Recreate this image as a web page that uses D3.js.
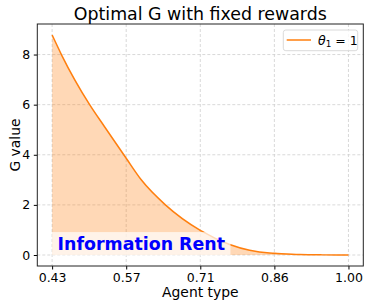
<!DOCTYPE html>
<html>
<head>
<meta charset="utf-8">
<script src="https://cdn.jsdelivr.net/npm/d3@7"></script>
<style>
  html, body { margin: 0; padding: 0; background: #fff; }
  svg { display: block; font-family: "DejaVu Sans", sans-serif; }
</style>
</head>
<body>
<svg id="chart" width="370" height="308"></svg>
<script>
// ---- data ----
const agentType = [0.4286, 0.4467, 0.5012, 0.5300, 0.5714, 0.6008, 0.6475, 0.7143, 0.7708, 0.8094, 0.8479, 0.8571, 0.9057, 0.9500, 1.0000];
const gValue    = [8.78,   7.99,   5.99,   5.11,   3.86,   2.99,   1.99,   0.98,   0.42,   0.19,   0.08,   0.07,   0.02,   0.005,  0.0];
const xTickValues = [3/7, 4/7, 5/7, 6/7, 1];
const xTickLabels = ["0.43", "0.57", "0.71", "0.86", "1.00"];
const yTickValues = [0, 2, 4, 6, 8];
const yTickLabels = ["0", "2", "4", "6", "8"];
const titleText = "Optimal G with fixed rewards";
const xLabel = "Agent type";
const yLabel = "G value";
const annotation = "Information Rent";

const svg = d3.select("#chart");
const L = 37.3, R = 363.3, T = 24, B = 266;
const orange = "#ff7f0e";

const x = d3.scaleLinear().domain([0.4, 1.0286]).range([L, R]);
const y = d3.scaleLinear().domain([-0.439, 9.219]).range([B, T]);

const data = agentType.map((a, i) => ({ a, g: gValue[i] }));

// grid
const grid = svg.append("g");
grid.selectAll(".gx").data(xTickValues).join("line")
  .attr("x1", d => x(d)).attr("x2", d => x(d)).attr("y1", T).attr("y2", B)
  .attr("stroke", "#cfcfcf").attr("stroke-width", 0.8).attr("stroke-dasharray", "3,2");
grid.selectAll(".gy").data(yTickValues).join("line")
  .attr("x1", L).attr("x2", R).attr("y1", d => y(d)).attr("y2", d => y(d))
  .attr("stroke", "#cfcfcf").attr("stroke-width", 0.8).attr("stroke-dasharray", "3,2");

// area
const area = d3.area().x(d => x(d.a)).y0(y(0)).y1(d => y(d.g)).curve(d3.curveMonotoneX);
svg.append("path").datum(data).attr("d", area).attr("fill", orange).attr("fill-opacity", 0.3);

// line
const line = d3.line().x(d => x(d.a)).y(d => y(d.g)).curve(d3.curveMonotoneX);
svg.append("path").datum(data).attr("d", line).attr("fill", "none")
  .attr("stroke", orange).attr("stroke-width", 1.5);

// annotation with box
const annG = svg.append("g");
const annBox = annG.append("rect");
const annText = annG.append("text")
  .attr("x", x(3/7) + 5.5).attr("y", y(0) - 5.4)
  .attr("font-size", 17.4).attr("font-weight", "bold").attr("fill", "#0000ff")
  .text(annotation);
const bb = annText.node().getBBox();
annBox.attr("x", x(3/7)).attr("y", bb.y - 1.5)
  .attr("width", bb.width + 11).attr("height", y(0) - (bb.y - 1.5) + 0.5)
  .attr("fill", "#ffffff").attr("fill-opacity", 0.7);

// axes
const xAxis = d3.axisBottom(x).tickValues(xTickValues)
  .tickFormat((d, i) => xTickLabels[i]).tickSize(3.5).tickPadding(3.5);
const gx = svg.append("g").attr("transform", `translate(0,${B})`).call(xAxis);
gx.select(".domain").remove();
gx.selectAll("text").attr("font-size", 12.5).attr("font-family", "DejaVu Sans").attr("fill", "#000");
gx.selectAll("line").attr("stroke", "#000");

const yAxis = d3.axisLeft(y).tickValues(yTickValues)
  .tickFormat((d, i) => yTickLabels[i]).tickSize(3.5).tickPadding(3.5);
const gy = svg.append("g").attr("transform", `translate(${L},0)`).call(yAxis);
gy.select(".domain").remove();
gy.selectAll("text").attr("font-size", 12.5).attr("font-family", "DejaVu Sans").attr("fill", "#000");
gy.selectAll("line").attr("stroke", "#000");

// frame
svg.append("rect").attr("x", L).attr("y", T).attr("width", R - L).attr("height", B - T)
  .attr("fill", "none").attr("stroke", "#222").attr("stroke-width", 1);

// title & labels
svg.append("text").attr("x", (L + R) / 2).attr("y", 20).attr("text-anchor", "middle")
  .attr("font-size", 17.4).attr("fill", "#000").text(titleText);
svg.append("text").attr("x", (L + R) / 2).attr("y", 297).attr("text-anchor", "middle")
  .attr("font-size", 13.9).attr("fill", "#000").text(xLabel);
svg.append("text").attr("transform", `translate(19.5,${(T + B) / 2}) rotate(-90)`)
  .attr("text-anchor", "middle").attr("font-size", 13.9).attr("fill", "#000").text(yLabel);

// legend
const lg = svg.append("g");
lg.append("rect").attr("x", 283.3).attr("y", 30).attr("width", 74.4).attr("height", 20.7)
  .attr("rx", 2.5).attr("fill", "#fff").attr("fill-opacity", 0.8)
  .attr("stroke", "#d0d0d0").attr("stroke-width", 0.8);
lg.append("line").attr("x1", 286.7).attr("x2", 311).attr("y1", 40).attr("y2", 40)
  .attr("stroke", orange).attr("stroke-width", 1.5);
const lt = lg.append("text").attr("x", 318).attr("y", 44.5).attr("font-size", 12.5).attr("fill", "#000");
lt.append("tspan").attr("font-style", "italic").text("θ");
lt.append("tspan").attr("font-size", 8.8).attr("dy", 2.5).text("1");
lt.append("tspan").attr("dy", -2.5).text(" = 1");
</script>
</body>
</html>
